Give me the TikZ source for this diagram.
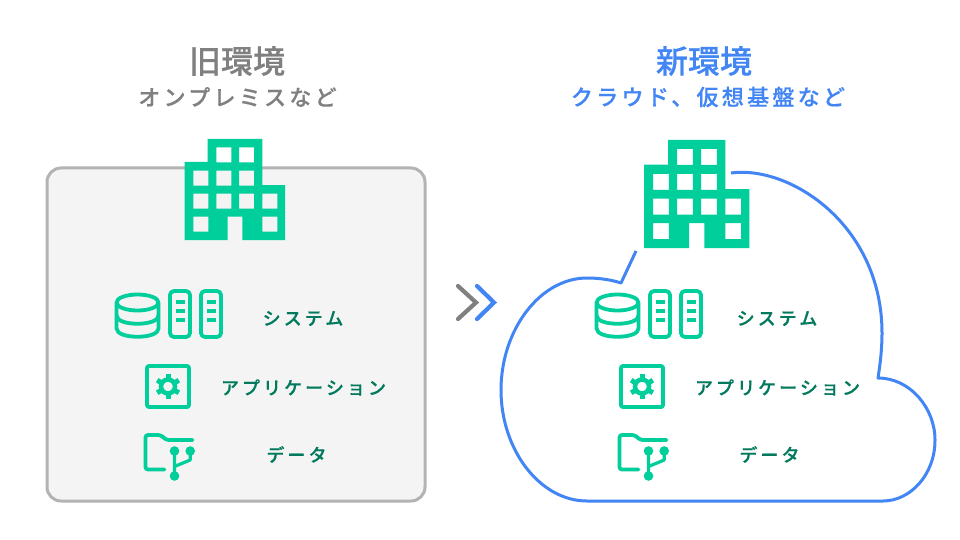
\documentclass[tikz,border=0pt]{standalone}
\usepackage{fontspec}
\usepackage{xcolor}
\newfontfamily\jpfont[FakeBold=0.5]{Noto Sans CJK JP Medium}
\newfontfamily\jpsub[LetterSpace=15,FakeBold=0.5]{Noto Sans CJK JP Medium}
\newfontfamily\jpitem[LetterSpace=17,FakeBold=0.5]{Noto Sans CJK JP Medium}
\definecolor{icongreen}{HTML}{00CE9B}
\definecolor{textgreen}{HTML}{00795C}
\definecolor{cloudblue}{HTML}{4285F4}
\definecolor{headgray}{HTML}{808080}
\definecolor{boxgray}{HTML}{F4F4F4}
\definecolor{boxline}{HTML}{B3B3B3}
\tikzset{
  headtext/.style={font=\jpfont\fontsize{32}{36}\selectfont},
  subtext/.style={font=\jpsub\fontsize{22}{26}\selectfont},
  itemtext/.style={font=\jpitem\fontsize{18}{22}\selectfont,text=textgreen},
  iconline/.style={draw=icongreen,line width=3.8pt,line join=round},
  chevron/.style={line width=4.2pt,line cap=round,line join=miter},
  buildingicon/.pic={
    \fill[icongreen,even odd rule] (0,23) -- (23,23) -- (23,0) -- (77.6,0) -- (77.6,46) -- (100.3,46)
      -- (100.3,101) -- (57.6,101) -- (57.6,77.7) -- (43,77.7) -- (43,101) -- (0,101) -- cycle
      foreach \wx/\wy in {31.6/8.3,54.3/8.3,8.6/31.7,31.6/31.7,54.3/31.7,8.6/54.7,31.6/54.7,
        54.3/54.7,77.6/54.7,8.6/77.7,77.6/77.7} {(\wx,\wy) rectangle ++(15,15)};
  },
  dbicon/.pic={
    \draw[iconline] (0,0) ellipse (21 and 8);
    \draw[iconline] (-21,0) -- (-21,26) .. controls (-21,37) and (21,37) .. (21,26) -- (21,0);
    \draw[iconline] (-21,13) .. controls (-21,24) and (21,24) .. (21,13);
  },
  rackicon/.pic={
    \draw[iconline,rounded corners=4pt] (0,0) rectangle (20,46);
    \foreach \by in {11,20,29} \fill[icongreen] (6,\by-2) rectangle (14.6,\by+2);
  },
  gearicon/.pic={
    \draw[iconline,rounded corners=2pt] (-21,-20.5) rectangle (21,20.5);
    \draw[icongreen,line width=4.5pt] (0,0) circle (7);
    \foreach \ga in {30,90,...,330} \draw[icongreen,line width=5pt] (\ga:8) -- (\ga:12.5);
  },
  foldericon/.pic={
    \draw[iconline,line cap=round,rounded corners=2.5pt] (47,5) -- (21,5) -- (15,0) -- (0,0) -- (0,34.5) -- (19,34.5);
    \fill[icongreen] (29,16) circle (4.8) (44.7,16) circle (4.8) (29,41) circle (4.8);
    \draw[icongreen,line width=3.2pt,line join=round] (29,16) -- (29,41) (44.7,16) -- (44.7,25) -- (29,31.5);
  }
}
\begin{document}
\begin{tikzpicture}[x=1pt,y=-1pt]
\useasboundingbox (0,0) rectangle (960,540);
\fill[white] (0,0) rectangle (960,540);
% left side
\node[headtext,text=headgray] (oldhead) at (237,61) {旧環境};
\node[subtext,text=headgray] (oldsub) at (237.5,97) {オンプレミスなど};
\draw[draw=boxline,fill=boxgray,line width=3pt,rounded corners=14pt] (47,168) rectangle (425,501);
\pic at (184.7,139) {buildingicon};
\pic at (137.5,302.5) {dbicon};
\pic at (170,291) {rackicon};
\pic at (201,291) {rackicon};
\pic at (168,386.5) {gearicon};
\pic at (145.5,435) {foldericon};
\node[itemtext] (oldsys) at (303,318.5) {システム};
\node[itemtext] (oldapp) at (303.5,387.5) {アプリケーション};
\node[itemtext] (olddata) at (296.5,454.5) {データ};
% arrow between
\draw[chevron,headgray] (458,286) -- (476,302.5) -- (458,319);
\draw[chevron,cloudblue] (477,286) -- (494,302.5) -- (477,319);
% right side
\node[headtext,text=cloudblue] (newhead) at (704,61) {新環境};
\node[subtext,text=cloudblue] (newsub) at (708,97) {クラウド、仮想基盤など};
\draw[cloudblue,line width=3pt,line join=round] (731,173) .. controls (790,165) and (882,225) .. (882,333)
  .. controls (882,350) and (880,365) .. (878,378)
  .. controls (910,378) and (935,408) .. (935,440)
  .. controls (935,475) and (910,501) .. (883,501)
  -- (587,501)
  .. controls (540,501) and (501,450) .. (501,390)
  .. controls (501,330) and (540,278) .. (587,278)
  .. controls (600,278) and (612,280) .. (621,283)
  -- (636,251);
\pic[xscale=1.05,yscale=1.07] at (644,140) {buildingicon};
\pic at (617.5,302.5) {dbicon};
\pic at (650,291) {rackicon};
\pic at (681,291) {rackicon};
\pic at (642,386.5) {gearicon};
\pic at (619.5,435) {foldericon};
\node[itemtext] (newsys) at (777,318.5) {システム};
\node[itemtext] (newapp) at (777.5,387.5) {アプリケーション};
\node[itemtext] (newdata) at (769.5,454.5) {データ};
\end{tikzpicture}
\end{document}
